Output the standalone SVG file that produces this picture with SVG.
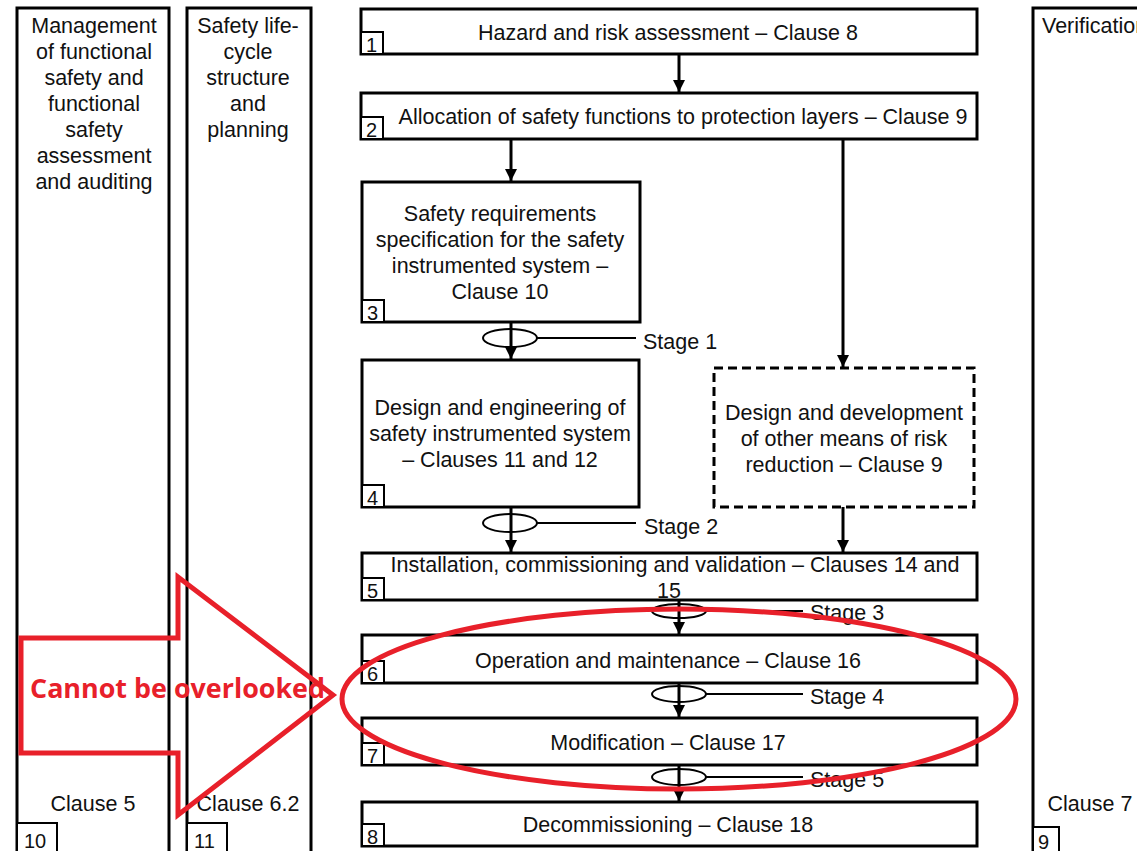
<svg xmlns="http://www.w3.org/2000/svg" width="1137" height="851" viewBox="0 0 1137 851">
<style>
.box{fill:#fff;stroke:#000;stroke-width:3}
.dash{fill:#fff;stroke:#000;stroke-width:3;stroke-dasharray:9 5}
.num{fill:#fff;stroke:#000;stroke-width:2}
.t{font-family:"Liberation Sans",Arial,sans-serif;font-size:21.5px;fill:#111;text-anchor:middle}
.tl{font-family:"Liberation Sans",Arial,sans-serif;font-size:21.5px;fill:#111}
.n{font-family:"Liberation Sans",Arial,sans-serif;font-size:20px;fill:#111}
.conn{stroke:#000;stroke-width:3;fill:none}
.stl{stroke:#000;stroke-width:2;fill:none}
.red{fill:none;stroke:#e8202a;stroke-width:5}
</style>
<defs>
<marker id="ah" viewBox="0 0 10 10" refX="10" refY="5" markerUnits="userSpaceOnUse" markerWidth="14" markerHeight="12" orient="auto">
<path d="M0,0 L10,5 L0,10 z" fill="#000"/>
</marker>
</defs>
<rect width="1137" height="851" fill="#fff"/>

<g id="col-management">
<rect class="box" x="17" y="8" width="152" height="860"/>
<text class="t" x="94" y="33">Management</text>
<text class="t" x="94" y="59">of functional</text>
<text class="t" x="94" y="85">safety and</text>
<text class="t" x="94" y="111">functional</text>
<text class="t" x="94" y="137">safety</text>
<text class="t" x="94" y="163">assessment</text>
<text class="t" x="94" y="189">and auditing</text>
<text class="t" x="93" y="811">Clause 5</text>
<rect class="num" x="17" y="823" width="40" height="40"/>
<text class="n" x="24" y="848">10</text>
</g>

<g id="col-structure">
<rect class="box" x="187" y="8" width="124" height="860"/>
<text class="t" x="248" y="33">Safety life-</text>
<text class="t" x="248" y="59">cycle</text>
<text class="t" x="248" y="85">structure</text>
<text class="t" x="248" y="111">and</text>
<text class="t" x="248" y="137">planning</text>
<text class="t" x="248" y="811">Clause 6.2</text>
<rect class="num" x="187" y="823" width="40" height="40"/>
<text class="n" x="194" y="848">11</text>
</g>

<g id="col-verification">
<rect class="box" x="1033" y="8" width="130" height="860"/>
<text class="tl" x="1042" y="33" font-size="20">Verification</text>
<text class="t" x="1090" y="811" font-size="20">Clause 7</text>
<rect class="num" x="1033" y="827" width="26" height="30"/>
<text class="n" x="1038" y="849">9</text>
</g>

<g id="node1">
<rect class="box" x="361" y="9" width="616" height="45"/>
<rect class="num" x="361" y="32" width="22" height="22"/>
<text class="n" x="366" y="52">1</text>
<text class="t" x="668" y="40">Hazard and risk assessment – Clause 8</text>
</g>

<g id="node2">
<rect class="box" x="361" y="93" width="616" height="46"/>
<rect class="num" x="361" y="117" width="22" height="22"/>
<text class="n" x="366" y="137">2</text>
<text class="t" x="683" y="124">Allocation of safety functions to protection layers – Clause 9</text>
</g>

<g id="node3">
<rect class="box" x="362" y="182" width="278" height="140"/>
<rect class="num" x="362" y="300" width="22" height="22"/>
<text class="n" x="367" y="320">3</text>
<text class="t" x="500" y="221">Safety requirements</text>
<text class="t" x="500" y="247">specification for the safety</text>
<text class="t" x="500" y="273">instrumented system –</text>
<text class="t" x="500" y="299">Clause 10</text>
</g>

<g id="node4">
<rect class="box" x="362" y="360" width="277" height="147"/>
<rect class="num" x="362" y="485" width="22" height="22"/>
<text class="n" x="367" y="505">4</text>
<text class="t" x="500" y="415">Design and engineering of</text>
<text class="t" x="500" y="441">safety instrumented system</text>
<text class="t" x="500" y="467">– Clauses 11 and 12</text>
</g>

<g id="node-other">
<rect class="dash" x="714" y="368" width="260" height="139"/>
<text class="t" x="844" y="420">Design and development</text>
<text class="t" x="844" y="446">of other means of risk</text>
<text class="t" x="844" y="472">reduction – Clause 9</text>
</g>

<g id="node5">
<rect class="box" x="362" y="553" width="615" height="47"/>
<rect class="num" x="362" y="578" width="22" height="22"/>
<text class="n" x="367" y="598">5</text>
<text class="t" x="675" y="572">Installation, commissioning and validation – Clauses 14 and</text>
<text class="t" x="669" y="598">15</text>
</g>

<g id="node6">
<rect class="box" x="362" y="635" width="615" height="48"/>
<rect class="num" x="362" y="661" width="22" height="22"/>
<text class="n" x="367" y="681">6</text>
<text class="t" x="668" y="668">Operation and maintenance – Clause 16</text>
</g>

<g id="node7">
<rect class="box" x="362" y="718" width="615" height="47"/>
<rect class="num" x="362" y="743" width="22" height="22"/>
<text class="n" x="367" y="763">7</text>
<text class="t" x="668" y="750">Modification – Clause 17</text>
</g>

<g id="node8">
<rect class="box" x="362" y="802" width="615" height="44"/>
<rect class="num" x="362" y="824" width="22" height="22"/>
<text class="n" x="367" y="844">8</text>
<text class="t" x="668" y="832">Decommissioning – Clause 18</text>
</g>

<g id="connectors">
<line class="conn" x1="679" y1="54" x2="679" y2="92" marker-end="url(#ah)"/>
<line class="conn" x1="511" y1="139" x2="511" y2="181" marker-end="url(#ah)"/>
<line class="conn" x1="843" y1="139" x2="843" y2="367" marker-end="url(#ah)"/>
<line class="conn" x1="511" y1="322" x2="511" y2="359" marker-end="url(#ah)"/>
<line class="conn" x1="511" y1="507" x2="511" y2="552" marker-end="url(#ah)"/>
<line class="conn" x1="843" y1="507" x2="843" y2="552" marker-end="url(#ah)"/>
<line class="conn" x1="679" y1="600" x2="679" y2="634" marker-end="url(#ah)"/>
<line class="conn" x1="679" y1="683" x2="679" y2="717" marker-end="url(#ah)"/>
<line class="conn" x1="679" y1="765" x2="679" y2="801" marker-end="url(#ah)"/>
</g>

<g id="stages">
<ellipse class="stl" cx="510" cy="338" rx="27" ry="9"/>
<line class="stl" x1="537" y1="338" x2="636" y2="338"/>
<text class="tl" x="643" y="349">Stage 1</text>
<ellipse class="stl" cx="510" cy="523" rx="27" ry="9"/>
<line class="stl" x1="537" y1="523" x2="636" y2="523"/>
<text class="tl" x="644" y="534">Stage 2</text>
<ellipse class="stl" cx="679" cy="611" rx="27" ry="7"/>
<line class="stl" x1="706" y1="611" x2="803" y2="611"/>
<text class="tl" x="810" y="620">Stage 3</text>
<ellipse class="stl" cx="679" cy="694" rx="27" ry="8"/>
<line class="stl" x1="706" y1="694" x2="803" y2="694"/>
<text class="tl" x="810" y="704">Stage 4</text>
<ellipse class="stl" cx="679" cy="777" rx="27" ry="8"/>
<line class="stl" x1="706" y1="777" x2="803" y2="777"/>
<text class="tl" x="810" y="787">Stage 5</text>
</g>

<g id="annotation">
<polygon class="red" points="21,638 178,638 178,577 333,695 178,815 178,753 21,753"/>
<ellipse class="red" cx="679" cy="699" rx="337" ry="90"/>
<text x="30" y="698" font-family="'Open Sans','Liberation Sans',sans-serif" font-size="26" font-weight="bold" fill="#e8202a" textLength="295" lengthAdjust="spacingAndGlyphs">Cannot be overlooked</text>
</g>
</svg>
